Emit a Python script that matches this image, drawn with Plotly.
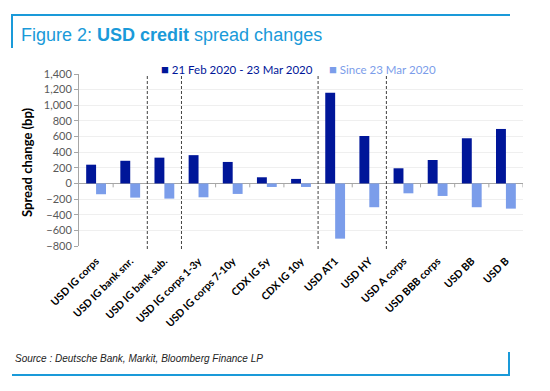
import plotly.graph_objects as go

categories = ["USD IG corps", "USD IG bank snr.", "USD IG bank sub.", "USD IG corps 1-3y",
              "USD IG corps 7-10y", "CDX IG 5y", "CDX IG 10y", "USD AT1", "USD HY",
              "USD A corps", "USD BBB corps", "USD BB", "USD B"]
feb_to_mar = [240, 290, 330, 362, 275, 79, 58, 1160, 607, 194, 300, 578, 697]
since_mar = [-138, -181, -194, -177, -134, -45, -45, -706, -304, -126, -160, -304, -322]
series_names = ["21 Feb 2020 - 23 Mar 2020", "Since 23 Mar 2020"]
y_range = [-800, 1400]
separators_after = [1, 2, 6, 8]   # dashed lines after these category indexes

DARK = "#001699"
LIGHT = "#7B9DEA"
BLUE = "#1A9AD9"

OFF = 8  # page body margin
W, H = 550 - OFF, 391 - OFF
L, R, T, B = 79 - OFF, 27, 74 - OFF, 145
PW, PH = W - L - R, H - T - B


def px(x):
    return (x - OFF - L) / PW


def py(y):
    return (H - B - (y - OFF)) / PH


idx = list(range(len(categories)))
fig = go.Figure()
fig.add_trace(go.Bar(x=idx, y=feb_to_mar, name=series_names[0], marker_color=DARK,
                     marker_line_width=0))
fig.add_trace(go.Bar(x=idx, y=since_mar, name=series_names[1], marker_color=LIGHT,
                     marker_line_width=0))

shapes = []
for k in separators_after:
    shapes.append(dict(type="line", xref="x", yref="paper", x0=k + 0.5, x1=k + 0.5,
                       y0=py(249), y1=1, line=dict(color="#404040", width=1, dash="3px,2px")))
for k in range(len(categories)):
    if k in separators_after:
        continue
    shapes.append(dict(type="line", xref="x", yref="y", x0=k + 0.5, x1=k + 0.5,
                       y0=0, y1=-50, line=dict(color="#A6A6A6", width=1)))
# frame
shapes += [
    dict(type="line", xref="paper", yref="paper", x0=px(11), x1=px(510), y0=py(15), y1=py(15),
         line=dict(color=BLUE, width=2)),
    dict(type="line", xref="paper", yref="paper", x0=px(12), x1=px(12), y0=py(15), y1=py(48),
         line=dict(color=BLUE, width=2)),
    dict(type="line", xref="paper", yref="paper", x0=px(12), x1=px(510), y0=py(375), y1=py(375),
         line=dict(color=BLUE, width=2)),
    dict(type="line", xref="paper", yref="paper", x0=px(509), x1=px(509), y0=py(352), y1=py(375),
         line=dict(color=BLUE, width=2)),
]

annotations = [
    dict(xref="paper", yref="paper", x=px(19), y=py(35), xanchor="left", yanchor="middle",
         showarrow=False, text="Figure 2: <b>USD credit</b> spread changes",
         font=dict(family="Liberation Sans, Arial", size=18, color=BLUE)),
    dict(xref="paper", yref="paper", x=px(13), y=py(358), xanchor="left", yanchor="middle",
         showarrow=False, text="<i>Source : Deutsche Bank, Markit, Bloomberg Finance LP</i>",
         font=dict(family="Liberation Sans, Arial", size=10, color="#222222")),
    dict(xref="paper", yref="paper", x=px(27), y=py(163), xanchor="center", yanchor="middle",
         showarrow=False, textangle=-90, text="<b>Spread change (bp)</b>",
         font=dict(family="Lato", size=13, color="#000000")),
    dict(xref="paper", yref="paper", x=px(159), y=py(69), xanchor="left", yanchor="middle",
         showarrow=False,
         text="<span style='font-size:13px'>■</span> " + series_names[0],
         font=dict(family="Lato", size=11.5, color=DARK)),
    dict(xref="paper", yref="paper", x=px(327), y=py(69), xanchor="left", yanchor="middle",
         showarrow=False,
         text="<span style='font-size:13px'>■</span> " + series_names[1],
         font=dict(family="Lato", size=11.5, color=LIGHT)),
]

fig.update_layout(
    width=W, height=H,
    margin=dict(l=L, r=R, t=T, b=B, autoexpand=False),
    paper_bgcolor="white", plot_bgcolor="white",
    barmode="group", bargap=0.42, bargroupgap=0,
    showlegend=False,
    shapes=shapes, annotations=annotations,
    font=dict(family="Lato"),
    xaxis=dict(tickmode="array", tickvals=idx, ticktext=categories, tickangle=-45,
               range=[-0.5, len(categories) - 0.5], showgrid=False, showline=False,
               zeroline=False, ticks="", ticklabelstandoff=6,
               tickfont=dict(family="Lato", size=10.5, color="#000000", weight="bold")),
    yaxis=dict(range=y_range, dtick=200, tickformat=",", showgrid=True, gridcolor="#EFEFEF",
               gridwidth=1, zeroline=True, zerolinecolor="#A6A6A6", zerolinewidth=1,
               showline=True, linecolor="#A6A6A6", linewidth=1, ticks="outside", ticklen=4,
               tickcolor="#A6A6A6", tickfont=dict(family="Lato", size=11, color="#595959")),
)

fig.write_html("out.html")
